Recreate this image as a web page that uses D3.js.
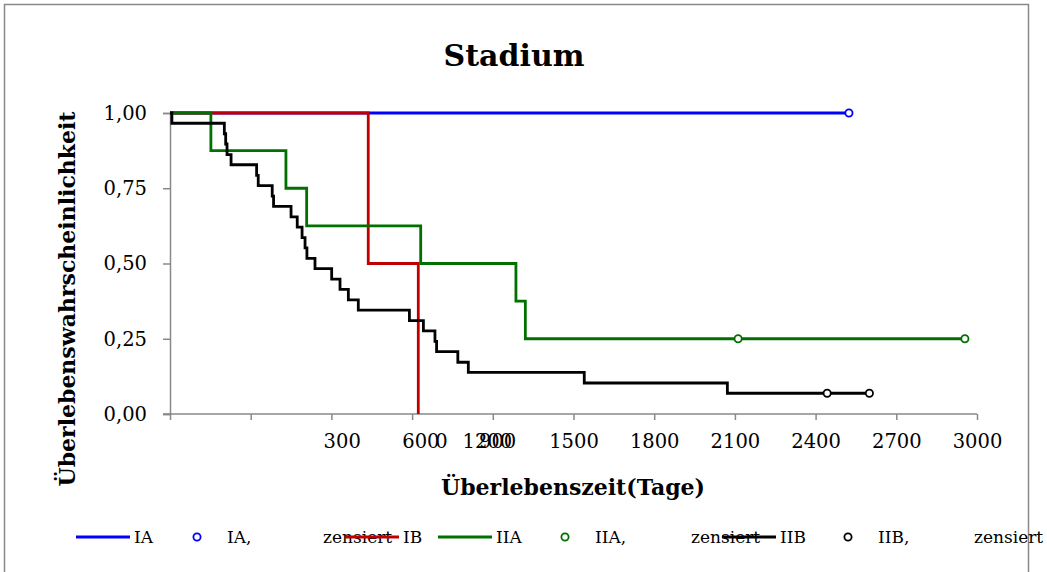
<!DOCTYPE html>
<html lang="de">
<head>
<meta charset="utf-8">
<title>Stadium</title>
<script src="https://d3js.org/d3.v7.min.js"></script>
<style>
  body { margin: 0; background: #fff; }
  svg { display: block; font-family: "DejaVu Serif", serif; }
  .title { font-size: 30px; font-weight: bold; }
  .axis-title { font-size: 22px; font-weight: bold; }
  .tick text { font-size: 19.5px; font-family: "DejaVu Serif", serif; fill: #000; }
  .legend text { font-size: 17px; }
</style>
</head>
<body>
<div id="vis"></div>
<script>
// time in days, survival probability
const iaTimes = [0, 2524];
const iaSurv = [1, 1];
const iaCensTimes = [2524];
const iaCensSurv = [1];

const ibTimes = [0, 737, 923];
const ibSurv = [1, 0.5, 0];

const iiaTimes = [0, 152, 431, 508, 932, 1286, 1321, 2955];
const iiaSurv = [1, 0.875, 0.75, 0.625, 0.5, 0.375, 0.25, 0.25];
const iiaCensTimes = [2112, 2955];
const iiaCensSurv = [0.25, 0.25];

const iibTimes = [0, 7, 202, 207, 212, 227, 322, 328, 380, 385, 450, 473, 491, 502, 509, 539,
                  601, 632, 663, 700, 890, 942, 985, 991, 1070, 1109, 1540, 2072, 2600];
const iibSurv = [1, 0.966, 0.931, 0.897, 0.862, 0.828, 0.793, 0.759, 0.724, 0.690, 0.655, 0.621, 0.586, 0.552, 0.517, 0.483,
                 0.448, 0.414, 0.379, 0.345, 0.310, 0.276, 0.241, 0.207, 0.172, 0.138, 0.103, 0.069, 0.069];
const iibCensTimes = [2443, 2600];
const iibCensSurv = [0.069, 0.069];

const xTicks = [0, 300, 600, 900, 1200, 1500, 1800, 2100, 2400, 2700, 3000];
const yTicks = [0, 0.25, 0.5, 0.75, 1];

const legendLabels = ["IA", "IA,", "IB", "IIA", "IIA,", "IIB", "IIB,"];

const width = 1047, height = 572;

const svg = d3.select("#vis").append("svg")
  .attr("width", width)
  .attr("height", height);

// outer chart border
svg.append("rect")
  .attr("x", 4.5).attr("y", 4.5)
  .attr("width", 1024).attr("height", 600)
  .attr("fill", "none")
  .attr("stroke", "#898989")
  .attr("stroke-width", 1.5);

const x = d3.scaleLinear().domain([0, 3000]).range([170, 977]);
const y = d3.scaleLinear().domain([0, 1]).range([414, 113]);

// x axis
const xAxis = svg.append("g")
  .attr("transform", "translate(0,414)")
  .call(d3.axisBottom(x).tickValues(xTicks).tickSize(6).tickPadding(14).tickFormat(d3.format("d")));

// the original export shifted the first labels around; reproduce that
const labelShift = {0: 271, 300: 91, 600: 89, 900: 85, 1200: -6};
xAxis.selectAll(".tick text")
  .attr("dx", d => labelShift[d] || 0);

const yAxis = svg.append("g")
  .attr("transform", "translate(170,0)")
  .call(d3.axisLeft(y).tickValues(yTicks).tickSize(7).tickPadding(16)
    .tickFormat(d => d3.format(".2f")(d).replace(".", ",")));

[xAxis, yAxis].forEach(a => {
  a.select(".domain").attr("stroke", "#898989").attr("stroke-width", 1.5);
  a.selectAll(".tick line").attr("stroke", "#898989").attr("stroke-width", 1.5);
});
// x axis line reaches left to the y tick
xAxis.select(".domain").attr("d", "M163,0H977");

const line = d3.line()
  .x(d => x(d[0]))
  .y(d => y(d[1]))
  .curve(d3.curveStepAfter);

const series = [
  {times: iaTimes, surv: iaSurv, color: "#0000ff"},
  {times: ibTimes, surv: ibSurv, color: "#c00000"},
  {times: iiaTimes, surv: iiaSurv, color: "#007000"},
  {times: iibTimes, surv: iibSurv, color: "#000000"}
];

series.forEach(s => {
  svg.append("path")
    .datum(d3.zip(s.times, s.surv))
    .attr("fill", "none")
    .attr("stroke", s.color)
    .attr("stroke-width", 2.8)
    .attr("d", line);
});

const censored = [
  {times: iaCensTimes, surv: iaCensSurv, color: "#0000ff"},
  {times: iiaCensTimes, surv: iiaCensSurv, color: "#007000"},
  {times: iibCensTimes, surv: iibCensSurv, color: "#000000"}
];

censored.forEach(c => {
  svg.selectAll(null)
    .data(d3.zip(c.times, c.surv))
    .enter()
    .append("circle")
    .attr("cx", d => x(d[0]))
    .attr("cy", d => y(d[1]))
    .attr("r", 3.6)
    .attr("fill", "#fff")
    .attr("stroke", c.color)
    .attr("stroke-width", 1.8);
});

// titles
svg.append("text")
  .attr("class", "title")
  .attr("x", 514).attr("y", 66)
  .attr("text-anchor", "middle")
  .text("Stadium");

svg.append("text")
  .attr("class", "axis-title")
  .attr("x", 573).attr("y", 495)
  .attr("text-anchor", "middle")
  .text("Überlebenszeit(Tage)");

svg.append("text")
  .attr("class", "axis-title")
  .attr("transform", "translate(75,299) rotate(-90)")
  .attr("text-anchor", "middle")
  .text("Überlebenswahrscheinlichkeit");

// legend
const legendItems = [
  {kind: "line", color: "#0000ff", x0: 76},
  {kind: "dot", color: "#0000ff", x0: 170},
  {kind: "line", color: "#c00000", x0: 345},
  {kind: "line", color: "#007000", x0: 438},
  {kind: "dot", color: "#007000", x0: 538},
  {kind: "line", color: "#000000", x0: 722},
  {kind: "dot", color: "#000000", x0: 821}
];

const legend = svg.append("g").attr("class", "legend");
const ly = 537;
legendItems.forEach((item, i) => {
  if (item.kind === "line") {
    legend.append("line")
      .attr("x1", item.x0).attr("x2", item.x0 + 54)
      .attr("y1", ly).attr("y2", ly)
      .attr("stroke", item.color)
      .attr("stroke-width", 2.8);
    legend.append("text")
      .attr("x", item.x0 + 58).attr("y", ly + 6)
      .text(legendLabels[i]);
  } else {
    legend.append("circle")
      .attr("cx", item.x0 + 27).attr("cy", ly)
      .attr("r", 3.6)
      .attr("fill", "#fff")
      .attr("stroke", item.color)
      .attr("stroke-width", 1.8);
    legend.append("text")
      .attr("x", item.x0 + 57).attr("y", ly + 6)
      .text(legendLabels[i]);
    legend.append("text")
      .attr("x", item.x0 + 153).attr("y", ly + 6)
      .text("zensiert");
  }
});
</script>
</body>
</html>
